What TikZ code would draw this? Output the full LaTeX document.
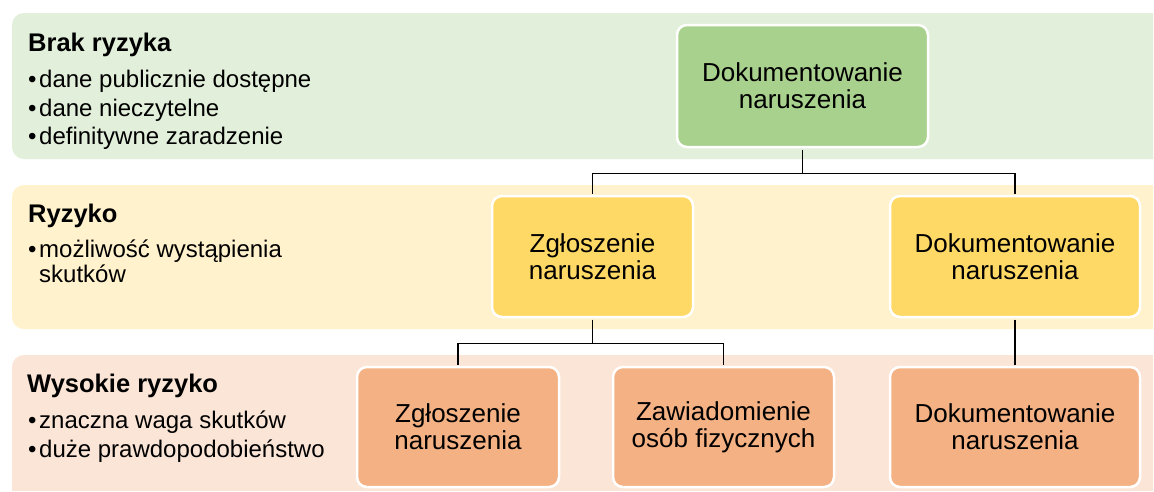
\documentclass[tikz,border=0pt]{standalone}
\usepackage{fontspec}
\setmainfont{Liberation Sans}
\definecolor{bandG}{HTML}{E2EFDA}
\definecolor{boxG}{HTML}{A9D18E}
\definecolor{bandY}{HTML}{FFF2CC}
\definecolor{boxY}{HTML}{FFD966}
\definecolor{bandO}{HTML}{FBE5D6}
\definecolor{boxO}{HTML}{F4B183}
\begin{document}
\begin{tikzpicture}[x=1pt,y=-1pt,
  box/.style={draw=white, line width=2.5pt, rounded corners=10pt, inner sep=0pt,
    align=center, font=\fontsize{26}{27}\selectfont},
  conn/.style={draw=black, line width=1.4pt, shorten <=1.25pt, shorten >=1.25pt},
  ttl/.style={anchor=base west, inner sep=0pt, font=\fontsize{25.5}{30}\selectfont\bfseries},
  bul/.style={anchor=base west, inner sep=0pt, font=\fontsize{24}{28}\selectfont},
  band/.style={rounded corners=12pt}]
\useasboundingbox (0,0) rectangle (1154,491);
\fill[white] (0,0) rectangle (1154,491);
\begin{scope}
  \clip (0,0) rectangle (1153,490);
  \fill[bandG, band] (12,13) rectangle (1190,159);
  \fill[bandY, band] (12,185) rectangle (1190,329);
  \fill[bandO, band] (12,355) rectangle (1190,520);
\end{scope}

% left texts
\node[ttl] (t1) at (28,51) {Brak ryzyka};
\node[bul] (b1a) at (28,87) {•};
\node[bul] (l1a) at (39,87) {dane publicznie dostępne};
\node[bul] (b1b) at (28,116) {•};
\node[bul] (l1b) at (39,116) {dane nieczytelne};
\node[bul] (b1c) at (28,144) {•};
\node[bul] (l1c) at (39,144) {definitywne zaradzenie};

\node[ttl] (t2) at (28,222) {Ryzyko};
\node[bul] (b2a) at (28,257) {•};
\node[bul] (l2a) at (39,257) {możliwość wystąpienia};
\node[bul] (l2b) at (39,282) {skutków};

\node[ttl] (t3) at (27,392) {Wysokie ryzyko};
\node[bul] (b3a) at (28,428) {•};
\node[bul] (l3a) at (39,428) {znaczna waga skutków};
\node[bul] (b3b) at (28,457) {•};
\node[bul] (l3b) at (39,457) {duże prawdopodobieństwo};

% boxes
\node[box, fill=boxG, minimum width=251pt, minimum height=122pt] (g) at (802.5,86) {Dokumentowanie\\naruszenia};
\node[box, fill=boxY, minimum width=201pt, minimum height=121pt] (y1) at (592.5,256.5) {Zgłoszenie\\naruszenia};
\node[box, fill=boxY, minimum width=250pt, minimum height=121pt] (y2) at (1015,256.5) {Dokumentowanie\\naruszenia};
\node[box, fill=boxO, minimum width=202pt, minimum height=120pt] (o1) at (458,427) {Zgłoszenie\\naruszenia};
\node[box, fill=boxO, minimum width=221pt, minimum height=120pt] (o2) at (723.5,427) {Zawiadomienie\\osób fizycznych};
\node[box, fill=boxO, minimum width=250pt, minimum height=120pt] (o3) at (1015,427) {Dokumentowanie\\naruszenia};

% connectors
\coordinate (j1) at ([yshift=-25pt]g.south);
\coordinate (j2) at ([yshift=-25pt]y1.south);
\draw[conn, shorten >=0pt] (g.south) -- (j1);
\draw[conn, shorten <=0pt] (j1) -| (y1.north);
\draw[conn, shorten <=0pt] (j1) -| (y2.north);
\draw[conn, shorten >=0pt] (y1.south) -- (j2);
\draw[conn, shorten <=0pt] (j2) -| (o1.north);
\draw[conn, shorten <=0pt] (j2) -| (o2.north);
\draw[conn] (y2.south) -- (o3.north);
\end{tikzpicture}
\end{document}
